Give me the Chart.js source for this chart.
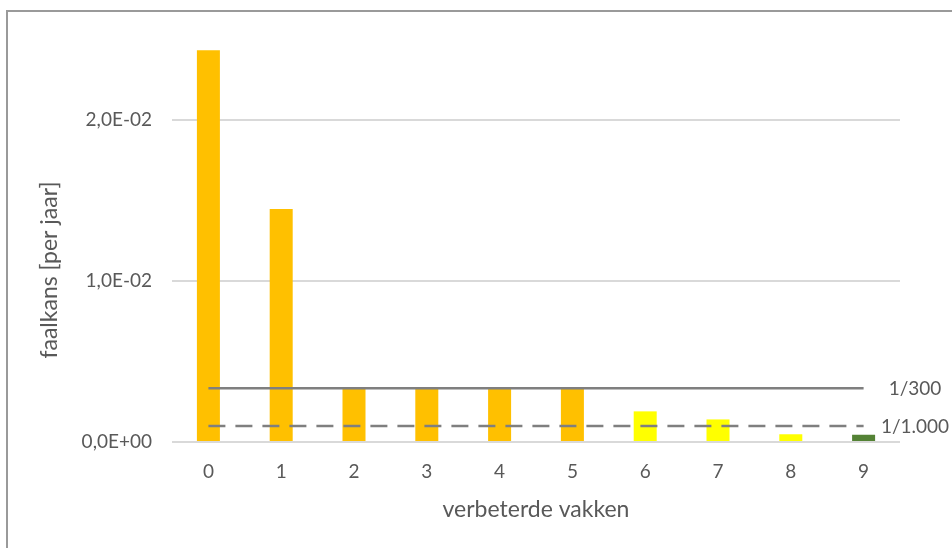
<!DOCTYPE html>
<html>
<head>
<meta charset="utf-8">
<script src="https://cdn.jsdelivr.net/npm/chart.js@4/dist/chart.umd.min.js"></script>
<style>
  html, body { margin: 0; padding: 0; background: #ffffff; }
  #wrap { position: relative; width: 952px; height: 548px; overflow: hidden; }
  #frame { position: absolute; left: 6px; top: 10px; width: 1000px; height: 600px;
           border: 2px solid #9a9a9a; box-sizing: border-box; pointer-events: none; }
  canvas { position: absolute; left: 0; top: 0; }
</style>
</head>
<body>
<div id="wrap">
  <canvas id="c" width="952" height="548"></canvas>
  <div id="frame"></div>
</div>
<script>
// ---- data ----
const categories = ['0', '1', '2', '3', '4', '5', '6', '7', '8', '9'];
const failureProb = [0.0243, 0.01445, 0.00333, 0.00333, 0.00333, 0.00333, 0.0019, 0.0014, 0.00048, 0.00045];
const normValues = [1 / 300, 1 / 1000];
const normLabels = ['1/300', '1/1.000'];
const yTickValues = [0, 0.01, 0.02];
const xAxisTitle = 'verbeterde vakken';
const yAxisTitle = 'faalkans [per jaar]';

// ---- styles ----
const barColors = ['#FFC000', '#FFC000', '#FFC000', '#FFC000', '#FFC000', '#FFC000', '#FFFF00', '#FFFF00', '#FFFF00', '#548235'];
const textColor = '#595959';
const fontFamily = 'Lato, "Open Sans", sans-serif';

function fmtExp(v) {
  const s = Number(v).toExponential(1); // e.g. 1.0e-2
  const m = s.match(/^(-?\d)\.(\d)e([+-])(\d+)$/);
  if (!m) return s;
  const exp = m[4].padStart(2, '0');
  return m[1] + ',' + m[2] + 'E' + m[3] + exp;
}

const overlayPlugin = {
  id: 'overlay',
  afterDraw(chart) {
    const { ctx, chartArea, scales } = chart;
    ctx.save();
    ctx.fillStyle = textColor;
    // norm labels
    ctx.font = '19px ' + fontFamily;
    ctx.textAlign = 'center';
    ctx.textBaseline = 'middle';
    normValues.forEach((v, i) => {
      const y = scales.y.getPixelForValue(v);
      ctx.fillText(normLabels[i], chartArea.right + 15, y + 1);
    });
    // y axis title
    ctx.font = '23px ' + fontFamily;
    ctx.translate(50, 270);
    ctx.rotate(-Math.PI / 2);
    ctx.fillText(yAxisTitle, 0, 0);
    ctx.restore();
  }
};

new Chart(document.getElementById('c'), {
  data: {
    labels: categories,
    datasets: [
      {
        type: 'line',
        label: normLabels[0],
        data: categories.map(() => normValues[0]),
        borderColor: '#7f7f7f',
        borderWidth: 2.5,
        pointRadius: 0,
        fill: false,
        order: 0
      },
      {
        type: 'line',
        label: normLabels[1],
        data: categories.map(() => normValues[1]),
        borderColor: '#7f7f7f',
        borderWidth: 2.5,
        borderDash: [17, 10],
        pointRadius: 0,
        fill: false,
        order: 0
      },
      {
        type: 'bar',
        label: 'faalkans',
        data: failureProb,
        backgroundColor: barColors,
        borderWidth: 0,
        barPercentage: 0.316,
        categoryPercentage: 1,
        order: 1
      }
    ]
  },
  options: {
    responsive: false,
    animation: false,
    devicePixelRatio: 1,
    layout: { padding: { left: 0, right: 52, top: 39, bottom: 0 } },
    plugins: {
      legend: { display: false },
      tooltip: { enabled: false }
    },
    scales: {
      x: {
        grid: { display: false, drawTicks: false },
        border: { display: false },
        ticks: { color: textColor, font: { family: fontFamily, size: 19 }, padding: 18 },
        title: {
          display: true, text: xAxisTitle, color: textColor,
          font: { family: fontFamily, size: 23 }, padding: { top: 0, bottom: 25 }
        },
        afterFit(scale) { scale.height = 106; }
      },
      y: {
        min: 0,
        max: 0.025,
        grid: { color: '#d9d9d9', lineWidth: 2, drawTicks: false },
        border: { display: false },
        ticks: {
          stepSize: 0.01,
          color: textColor,
          font: { family: fontFamily, size: 19 },
          padding: 20,
          callback: (v) => fmtExp(v)
        },
        afterBuildTicks(scale) {
          scale.ticks = yTickValues.map(v => ({ value: v }));
        },
        afterFit(scale) { scale.width = 172; }
      }
    }
  },
  plugins: [overlayPlugin]
});
</script>
</body>
</html>
